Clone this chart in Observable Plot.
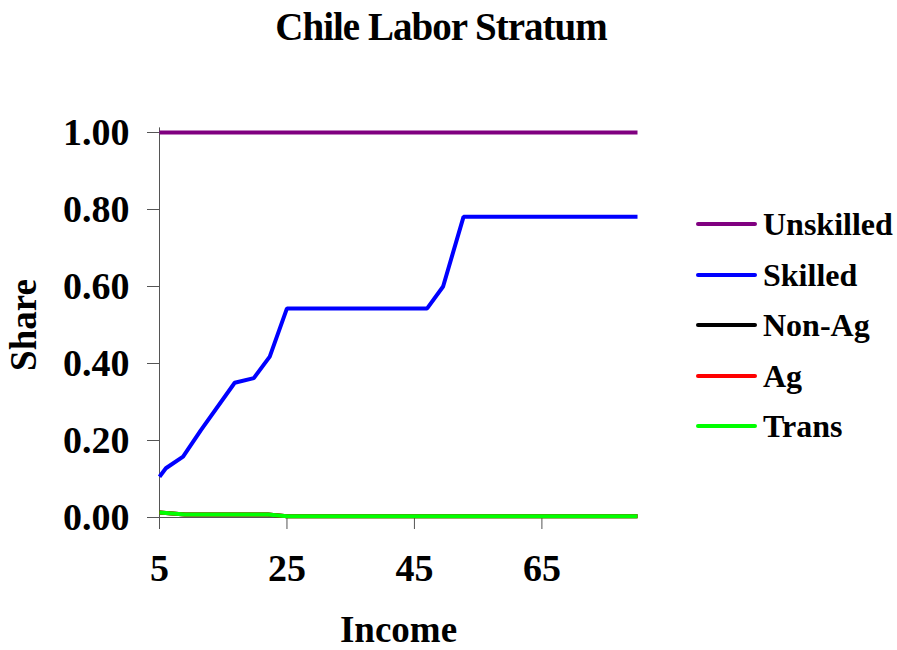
<!DOCTYPE html>
<html>
<head>
<meta charset="utf-8">
<script src="https://cdn.jsdelivr.net/npm/d3@7"></script>
<script src="https://cdn.jsdelivr.net/npm/@observablehq/plot@0.6"></script>
<style>
  html, body { margin: 0; padding: 0; background: #fff; }
  #wrap { position: relative; width: 897px; height: 650px; font-family: "Liberation Serif", "Times New Roman", serif; font-weight: bold; }
  #title { position: absolute; left: 0; width: 882px; top: 4px; text-align: center; font-size: 39px; letter-spacing: -1px; }
  #legend { position: absolute; left: 696px; top: 199px; }
  .item { display: flex; align-items: center; height: 50.5px; }
  .swatch { width: 61px; height: 4px; border-radius: 2px; margin-right: 6px; }
  .lab { font-size: 32px; line-height: 32px; }
</style>
</head>
<body>
<div id="wrap">
  <div id="title">Chile Labor Stratum</div>
  <div id="chart"></div>
  <div id="legend"></div>
</div>
<script>
// Data
const seriesNames = ["Unskilled", "Skilled", "Non-Ag", "Ag", "Trans"];
const seriesColors = ["#800080", "#0000ff", "#000000", "#ff0000", "#00ff00"];

const unskilledIncome = [5, 80];
const unskilledShare  = [1.0, 1.0];

const skilledIncome = [5, 6, 8.7, 11.5, 16.8, 19.8, 22.3, 25, 47, 49.5, 52.7, 80];
const skilledShare  = [0.106, 0.128, 0.158, 0.227, 0.35, 0.362, 0.418, 0.543, 0.543, 0.60, 0.781, 0.781];

const nonAgIncome = [5, 9, 22, 25, 80];
const nonAgShare  = [0.013, 0.008, 0.008, 0.003, 0.003];

const agIncome = [5, 9, 22, 25, 80];
const agShare  = [0.013, 0.008, 0.008, 0.003, 0.003];

const transIncome = [5, 9, 22, 25, 80];
const transShare  = [0.013, 0.008, 0.008, 0.003, 0.003];

const xTicks = [5, 25, 45, 65];
const yTicks = [0, 0.2, 0.4, 0.6, 0.8, 1.0];

const toRows = (name, xs, ys) => xs.map((x, i) => ({series: name, income: x, share: ys[i]}));
const rows = [
  ...toRows("Non-Ag", nonAgIncome, nonAgShare),
  ...toRows("Ag", agIncome, agShare),
  ...toRows("Trans", transIncome, transShare),
  ...toRows("Skilled", skilledIncome, skilledShare),
  ...toRows("Unskilled", unskilledIncome, unskilledShare)
];

const font = '"Liberation Serif", "Times New Roman", serif';

const chart = Plot.plot({
  width: 897,
  height: 650,
  marginLeft: 159,
  marginRight: 260,
  marginTop: 132,
  marginBottom: 133,
  style: { fontFamily: font, fontWeight: "bold", fontSize: "38px", color: "#000", background: "white" },
  x: { domain: [5, 80], ticks: xTicks, tickFormat: d => String(d) },
  y: { domain: [0, 1], ticks: yTicks, tickFormat: d => d.toFixed(2) },
  color: { domain: seriesNames, range: seriesColors },
  marks: [
    Plot.ruleX([5], { y1: 0, y2: 1.012, stroke: "#555", strokeWidth: 1 }),
    Plot.ruleY([0], { stroke: "#555", strokeWidth: 1 }),
    Plot.axisX({ ticks: xTicks, tickSize: 12, tickPadding: 25, stroke: "#555", fontSize: 38, label: null, tickFormat: d => String(d) }),
    Plot.axisY({ ticks: yTicks, tickSize: 12, tickPadding: 18, stroke: "#555", fontSize: 38, label: null, tickFormat: d => d.toFixed(2) }),
    Plot.line(rows, { x: "income", y: "share", z: "series", stroke: d => d.series, strokeWidth: 4, strokeLinejoin: "miter", strokeLinecap: "butt" }),
    Plot.text(["Income"], { frameAnchor: "bottom", dy: 124, fontSize: 37, fontWeight: "bold", fill: "#000" }),
    Plot.text(["Share"], { frameAnchor: "left", textAnchor: "middle", dx: -135, rotate: -90, fontSize: 37, fontWeight: "bold", fill: "#000" })
  ]
});
document.getElementById("chart").appendChild(chart);

const legend = document.getElementById("legend");
seriesNames.forEach((n, i) => {
  const item = document.createElement("div");
  item.className = "item";
  const sw = document.createElement("div");
  sw.className = "swatch";
  sw.style.background = seriesColors[i];
  const lab = document.createElement("span");
  lab.className = "lab";
  lab.textContent = n;
  item.appendChild(sw);
  item.appendChild(lab);
  legend.appendChild(item);
});
</script>
</body>
</html>
